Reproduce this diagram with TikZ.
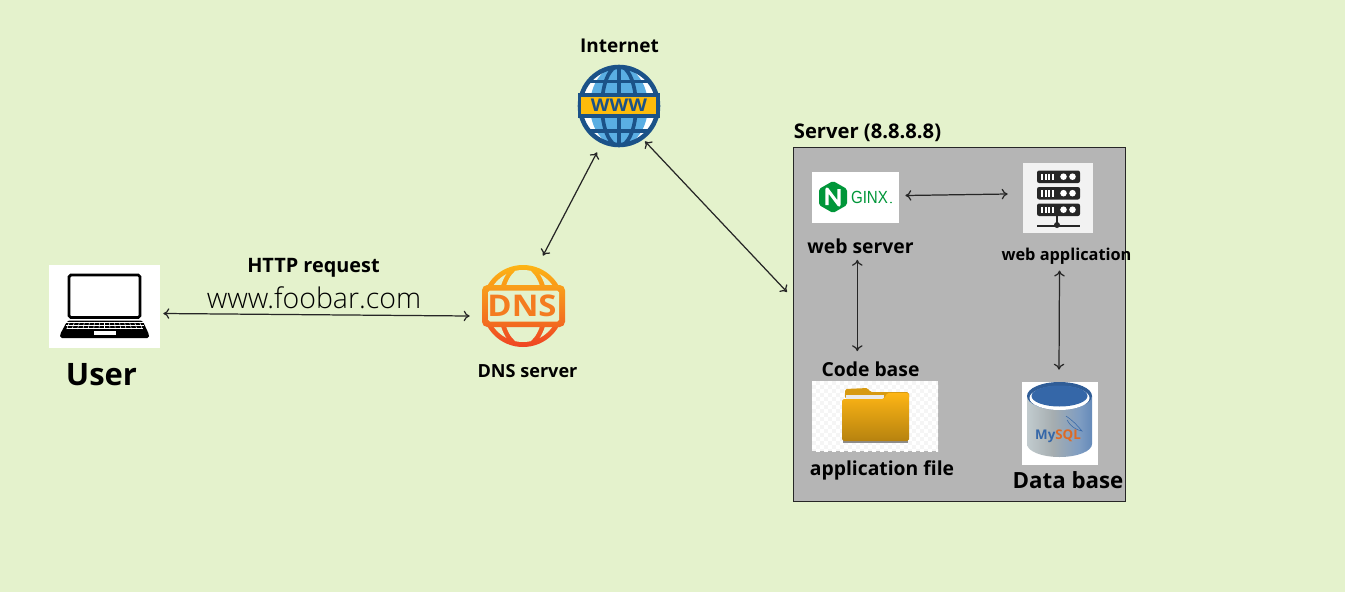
\documentclass[tikz,border=0pt]{standalone}
\usepackage{fontspec}
\setmainfont{Open Sans}
\newfontfamily\thinfont{Open Sans Light}
\newfontfamily\narrowfont{Liberation Sans}
\usetikzlibrary{arrows.meta}
\definecolor{bgcol}{HTML}{E4F2CC}
\definecolor{srvgray}{HTML}{B5B5B5}
\definecolor{wwwblue}{HTML}{1B5288}
\definecolor{wwwsky}{HTML}{5AAEE3}
\definecolor{wwwyel}{HTML}{FDBB0B}
\definecolor{dnstop}{HTML}{FDB515}
\definecolor{dnsmid}{HTML}{F58A1F}
\definecolor{dnsbot}{HTML}{EF4423}
\definecolor{ngxgreen}{HTML}{009639}
\definecolor{dbblue}{HTML}{3567A8}
\definecolor{sqlorange}{HTML}{DD6A26}
\definecolor{drumA}{HTML}{3F72AE}
\definecolor{drumB}{HTML}{C9D3D6}
\definecolor{drumC}{HTML}{A5ADB0}
\definecolor{drumD}{HTML}{7F9DC2}
\definecolor{drumE}{HTML}{3D6EAC}
\definecolor{drumF}{HTML}{2D5A95}
\pgfdeclarehorizontalshading{drumshade}{100bp}{
  color(0bp)=(drumA); color(20bp)=(drumB); color(45bp)=(drumC);
  color(65bp)=(drumD); color(90bp)=(drumE); color(100bp)=(drumF)}
\tikzset{
  link/.style={draw=black!85,line width=0.7pt,{To[length=3.4pt,width=6pt]}-{To[length=3.4pt,width=6pt]}},
  lbl/.style={font=\bfseries\fontsize{#1}{#1}\selectfont,inner sep=0pt},
  iconbox/.style={fill=white,inner sep=0pt}
}
\begin{document}
\begin{tikzpicture}[x=0.02cm,y=-0.02cm]
  \useasboundingbox (0,0) rectangle (1345,592);
  \fill[bgcol] (0,0) rectangle (1345,592);
  \draw[fill=srvgray,draw=black!85,line width=0.55pt] (793.5,147.5) rectangle (1125.5,501.5);
  \coordinate (srvwest) at (794,325);

  % laptop
  \node[iconbox,minimum width=2.22cm,minimum height=1.66cm] (user) at (104.5,306.5) {};
  \begin{scope}[shift={(user)}]
    \draw[fill=white,line width=1.6pt,rounded corners=1pt] (-35.5,-31.5) rectangle (35.5,11);
    \fill[black,rounded corners=1pt] (-37,14) -- (38,14) -- (44.5,28) -- (44.5,31.5) -- (-44.5,31.5) -- (-44.5,28) -- cycle;
    \fill[white] (-11,24.5) rectangle (11,28.5);
    \foreach \ky in {16,19,22}
      \draw[white,line width=0.3pt] (-37+\ky*0.1-3,\ky) -- (38-\ky*0.1+3,\ky);
    \foreach \kx in {-35,-30,...,35}
      \draw[white,line width=0.3pt] (\kx*1,15.5) -- (\kx*1.08,22.5);
  \end{scope}
  \node[lbl=17.6] (userlbl) at (101.5,375) {User};

  % dns globe
  \coordinate (dnsc) at (523,306);
  \node[inner sep=0pt,minimum width=1.64cm,minimum height=1.64cm] (dns) at (dnsc) {};
  \shade[top color=dnstop,middle color=dnsmid,bottom color=dnsbot] (dnsc) circle (41);
  \begin{scope}
    \clip (dnsc) circle (36);
    \fill[bgcol,even odd rule] (dnsc) circle (38) (dnsc) ellipse (25 and 43) (dnsc) ellipse (20 and 38);
  \end{scope}
  \shade[top color=dnstop!50!dnsmid,bottom color=dnsmid!50!dnsbot,rounded corners=3pt] (482,285) rectangle (565,327);
  \fill[bgcol,rounded corners=1pt] (488,290.5) rectangle (559,321.5);
  \node[inner sep=0pt,text=dnsmid!80!dnsbot,font=\bfseries\fontsize{17}{17}\selectfont,xscale=1.1] (dnstext) at (522,305.5) {DNS};
  \node[lbl=10.3] (dnslbl) at (527.5,371) {DNS server};

  % www globe
  \coordinate (wwwc) at (619,106);
  \node[inner sep=0pt,minimum width=1.64cm,minimum height=1.64cm] (internet) at (wwwc) {};
  \fill[white] (wwwc) circle (40);
  \begin{scope}
    \clip (wwwc) circle (40);
    \fill[wwwsky] (wwwc) ellipse (29 and 40);
    \draw[wwwblue,line width=2.1pt] (wwwc) ellipse (17 and 40);
    \draw[wwwblue,line width=2.1pt] (619,66) -- (619,146);
    \draw[wwwblue,line width=2.1pt] (579,81.5) -- (659,81.5);
    \draw[wwwblue,line width=2.1pt] (579,131) -- (659,131);
  \end{scope}
  \draw[wwwblue,line width=2.6pt] (wwwc) circle (39);
  \draw[fill=wwwyel,draw=wwwblue,line width=1.8pt] (579.5,95) rectangle (658,116);
  \node[inner sep=0pt,text=wwwblue,font=\bfseries\fontsize{10}{10}\selectfont,xscale=1.1] (wwwtext) at (619,105.5) {WWW};
  \node[lbl=10.8] (internetlbl) at (619.5,46) {Internet};

  % nginx
  \node[iconbox,minimum width=1.74cm,minimum height=1.02cm] (nginx) at (855.5,197.5) {};
  \fill[ngxgreen,rounded corners=1pt] (833,181) -- (847,189) -- (847,205) -- (833,213) -- (819,205) -- (819,189) -- cycle;
  \draw[white,line width=1.8pt,line join=round] (827,205) -- (827,189) -- (839,205) -- (839,189);
  \node[inner sep=0pt,text=ngxgreen,font=\narrowfont\fontsize{10}{10}\selectfont,xscale=0.86] (ngxtext) at (869.5,197.5) {GINX};
  \fill[ngxgreen] (891,202.5) circle (0.8);
  \node[lbl=11] (nginxlbl) at (860.5,246) {web server};

  % rack
  \node[fill=black!5,inner sep=0pt,minimum width=1.4cm,minimum height=1.4cm] (webapp) at (1058,198) {};
  \draw[black!85,line width=1pt] (1057,214) -- (1057,226);
  \draw[black!85,line width=1.2pt] (1037,226) -- (1080,226);
  \fill[black!85] (1057,225) circle (3);
  \foreach \ry in {170.5,187,203.5}{
    \fill[black!85,rounded corners=1.2pt] (1037,\ry) rectangle (1080,\ry+12.5);
    \foreach \rx in {1041,1044.5,1048,1051.5}
      \fill[white] (\rx,\ry+3) rectangle (\rx+2,\ry+9.5);
    \fill[white] (1063.5,\ry+6.2) circle (3.3);
    \fill[white] (1072.5,\ry+6.2) circle (3.3);
  }
  \node[lbl=9.3] (webapplbl) at (1066.5,256) {web application};

  % folder
  \node[fill=black!4,inner sep=0pt,minimum width=2.52cm,minimum height=1.4cm] (folder) at (875,416) {};
  \begin{scope}
    \clip (812,381) rectangle (938,451);
    \foreach \cx in {0,...,31}
      \foreach \cy in {0,...,17}{
        \pgfmathparse{int(mod(\cx+\cy,2))}
        \ifnum\pgfmathresult=0 \fill[white] (812+\cx*4,381+\cy*4) rectangle +(4,4); \fi
      }
  \end{scope}
  \fill[black!45] (843,440) rectangle (908,442.5);
  \fill[dnstop!85!black,rounded corners=1pt] (845,399) -- (845,389) -- (868,388) -- (870,392) -- (909,392) -- (909,399) -- cycle;
  \fill[black!8] (846,395) rectangle (884,399);
  \shade[top color=dnstop,bottom color=dnstop!72!black,rounded corners=1pt] (842,399) -- (884,399) -- (887,393) -- (909,393) -- (909,441) -- (842,441) -- cycle;
  \node[lbl=11] (codelbl) at (870.5,369) {Code base};
  \node[lbl=11] (folderlbl) at (882,470) {application file};

  % mysql drum
  \node[iconbox,minimum width=1.52cm,minimum height=1.66cm] (mysql) at (1060,423.5) {};
  \shade[shading=drumshade] (1027,396) arc (180:0:32.5 and 14) -- (1092,444) arc (0:180:32.5 and 13) -- cycle;
  \fill[dbblue!90!black] (1059.5,396) ellipse (32.5 and 14);
  \fill[white] (1059.5,398) ellipse (30 and 12);
  \fill[dbblue] (1059.5,396) ellipse (28 and 10.5);
  \draw[dbblue,line width=0.3pt] (1066,416) .. controls (1072,420) and (1076,424) .. (1082,431) .. controls (1076,430) and (1070,426) .. (1067,420);
  \node[inner sep=0pt,font=\bfseries\fontsize{7.6}{7.6}\selectfont] (sqltext) at (1058,436) {\textcolor{dbblue}{My}\textcolor{sqlorange}{SQL}};
  \node[lbl=12.7] (mysqllbl) at (1068,480) {Data base};

  \node[lbl=11.5] (srvlbl) at (867.5,133) {Server (8.8.8.8)};
  \node[lbl=11.3] (httplbl) at (313.5,268) {HTTP request};
  \node[inner sep=0pt,font=\thinfont\fontsize{16.2}{16.2}\selectfont] (urllbl) at (314,298) {www.foobar.com};

  \draw[link] ([shift={(3,7)}]user.east) -- ([shift={(-12,10)}]dns.west);
  \draw[link] ([shift={(-22,5)}]internet.south) -- ([shift={(20,-9)}]dns.north);
  \draw[link] ([shift={(26,-6)}]internet.south) -- ([shift={(-7,-33)}]srvwest);
  \draw[link] ([shift={(6,-2)}]nginx.east) -- ([shift={(-15,-4)}]webapp.west);
  \draw[link] ([shift={(-3.2,6)}]nginxlbl.south) -- ([shift={(-13.2,-10)}]codelbl.north);
  \draw[link] ([shift={(-7,6)}]webapplbl.south) -- ([shift={(-1,-12)}]mysql.north);
\end{tikzpicture}
\end{document}
